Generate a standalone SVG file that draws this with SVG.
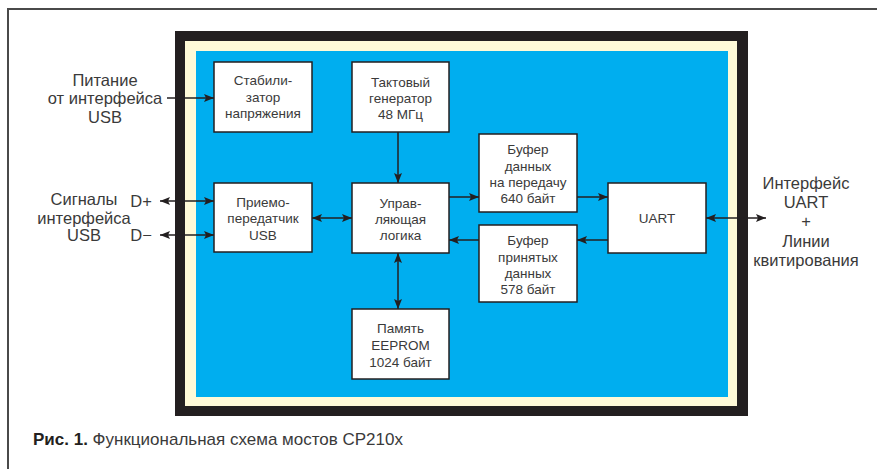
<svg xmlns="http://www.w3.org/2000/svg" width="877" height="469" viewBox="0 0 877 469">
  <style>
    .page { fill: none; stroke: #4a4a4a; stroke-width: 2; }
    .box { fill: #ffffff; stroke: #231f20; stroke-width: 1.5; }
    .lbl { font-family: "Liberation Sans", Arial, sans-serif; font-size: 13.5px; fill: #3a3a3a; text-anchor: middle; }
    .ext { font-family: "Liberation Sans", Arial, sans-serif; font-size: 16.5px; fill: #3a3a3a; text-anchor: middle; }
    .cap { font-family: "Liberation Sans", Arial, sans-serif; font-size: 17px; fill: #3a3a3a; }
    .wire { stroke: #231f20; stroke-width: 1.5; fill: none; }
  </style>
  <defs>
    <marker id="arr" viewBox="0 0 10 8" refX="10" refY="4" markerWidth="10" markerHeight="8" markerUnits="userSpaceOnUse" orient="auto-start-reverse">
      <path d="M0,0 L10,4 L0,8 L2,4 Z" fill="#231f20"/>
    </marker>
  </defs>

  <!-- page border -->
  <path class="page" d="M8,469 V9 H877"/>

  <!-- chip outline: black rim, cream band, blue die -->
  <rect x="175" y="31" width="573" height="385" fill="#231f20"/>
  <rect x="185" y="41" width="552" height="365" fill="#fffad8"/>
  <rect x="196" y="51" width="532" height="346" fill="#00aeef"/>

  <!-- connectors -->
  <g id="connectors">
    <line class="wire" x1="167" y1="98" x2="214" y2="98" marker-end="url(#arr)"/>
    <line class="wire" x1="160" y1="201" x2="214" y2="201" marker-start="url(#arr)" marker-end="url(#arr)"/>
    <line class="wire" x1="160" y1="235" x2="214" y2="235" marker-start="url(#arr)" marker-end="url(#arr)"/>
    <line class="wire" x1="312" y1="218" x2="352" y2="218" marker-start="url(#arr)" marker-end="url(#arr)"/>
    <line class="wire" x1="398" y1="132" x2="398" y2="183" marker-end="url(#arr)"/>
    <line class="wire" x1="449" y1="197" x2="479" y2="197" marker-end="url(#arr)"/>
    <line class="wire" x1="577" y1="197" x2="608" y2="197" marker-end="url(#arr)"/>
    <line class="wire" x1="608" y1="240" x2="577" y2="240" marker-end="url(#arr)"/>
    <line class="wire" x1="479" y1="240" x2="449" y2="240" marker-end="url(#arr)"/>
    <line class="wire" x1="398" y1="253" x2="398" y2="309" marker-start="url(#arr)" marker-end="url(#arr)"/>
    <line class="wire" x1="706" y1="218" x2="766" y2="218" marker-start="url(#arr)" marker-end="url(#arr)"/>
  </g>

  <!-- blocks -->
  <g id="stabilizer">
    <rect class="box" x="214" y="62" width="98" height="70"/>
    <text class="lbl" x="263" y="85">Стабили-</text>
    <text class="lbl" x="263" y="102">затор</text>
    <text class="lbl" x="263" y="118">напряжения</text>
  </g>
  <g id="clock">
    <rect class="box" x="352" y="62" width="97" height="70"/>
    <text class="lbl" x="400.5" y="87">Тактовый</text>
    <text class="lbl" x="400.5" y="103">генератор</text>
    <text class="lbl" x="400.5" y="119">48 МГц</text>
  </g>
  <g id="tx-buffer">
    <rect class="box" x="479" y="134" width="98" height="78"/>
    <text class="lbl" x="528" y="154">Буфер</text>
    <text class="lbl" x="528" y="171">данных</text>
    <text class="lbl" x="528" y="187">на передачу</text>
    <text class="lbl" x="528" y="203">640 байт</text>
  </g>
  <g id="transceiver">
    <rect class="box" x="214" y="183" width="98" height="69"/>
    <text class="lbl" x="263" y="207">Приемо-</text>
    <text class="lbl" x="263" y="223">передатчик</text>
    <text class="lbl" x="263" y="240">USB</text>
  </g>
  <g id="control">
    <rect class="box" x="352" y="183" width="97" height="70"/>
    <text class="lbl" x="400.5" y="208">Управ-</text>
    <text class="lbl" x="400.5" y="224">ляющая</text>
    <text class="lbl" x="400.5" y="240">логика</text>
  </g>
  <g id="uart">
    <rect class="box" x="608" y="183" width="98" height="70"/>
    <text class="lbl" x="657" y="223">UART</text>
  </g>
  <g id="rx-buffer">
    <rect class="box" x="479" y="225" width="98" height="77"/>
    <text class="lbl" x="528" y="245">Буфер</text>
    <text class="lbl" x="528" y="262">принятых</text>
    <text class="lbl" x="528" y="278">данных</text>
    <text class="lbl" x="528" y="294">578 байт</text>
  </g>
  <g id="eeprom">
    <rect class="box" x="352" y="309" width="97" height="70"/>
    <text class="lbl" x="400.5" y="333">Память</text>
    <text class="lbl" x="400.5" y="350">EEPROM</text>
    <text class="lbl" x="400.5" y="367">1024 байт</text>
  </g>

  <!-- external signals -->
  <g id="power-in">
    <text class="ext" x="105" y="86">Питание</text>
    <text class="ext" x="105" y="104">от интерфейса</text>
    <text class="ext" x="105" y="123">USB</text>
  </g>
  <g id="usb-signals">
    <text class="ext" x="84" y="205">Сигналы</text>
    <text class="ext" x="84" y="224">интерфейса</text>
    <text class="ext" x="84" y="241">USB</text>
    <text class="ext" x="141" y="207">D+</text>
    <text class="ext" x="141" y="241">D−</text>
  </g>
  <g id="uart-lines">
    <text class="ext" x="806" y="189">Интерфейс</text>
    <text class="ext" x="806" y="208">UART</text>
    <text class="ext" x="806" y="227">+</text>
    <text class="ext" x="806" y="247">Линии</text>
    <text class="ext" x="806" y="266">квитирования</text>
  </g>

  <!-- caption -->
  <text class="cap" x="33" y="445"><tspan font-weight="bold" fill="#231f20">Рис. 1.</tspan> Функциональная схема мостов CP210x</text>
</svg>
